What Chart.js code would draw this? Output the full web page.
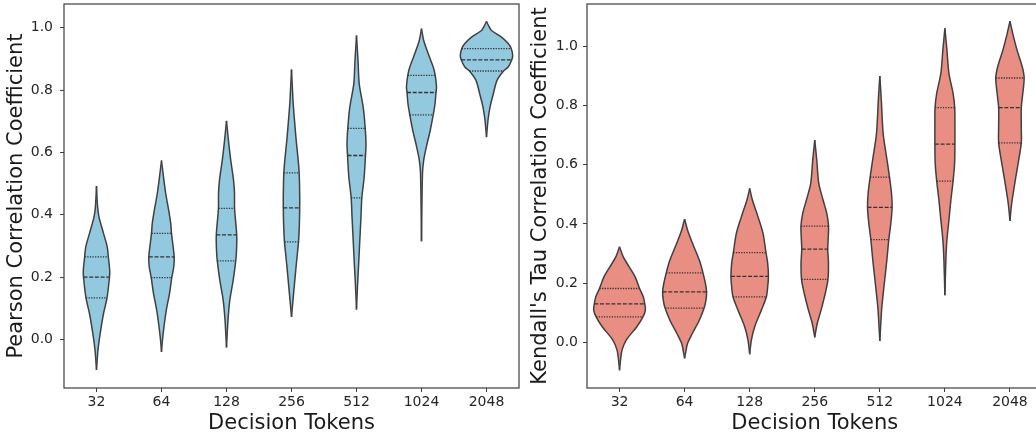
<!DOCTYPE html>
<html>
<head>
<meta charset="utf-8">
<script src="https://cdn.jsdelivr.net/npm/chart.js@4.4.1/dist/chart.umd.min.js"></script>
<style>
  html, body { margin: 0; padding: 0; background: #fff; overflow: hidden; width: 1036px; height: 434px; }
  .panel { position: absolute; top: 0; height: 434px; }
  #left { left: 0; width: 520px; }
  #right { left: 520px; width: 524px; }
</style>
</head>
<body>
<div class="panel" id="left"><canvas id="pearson"></canvas></div>
<div class="panel" id="right"><canvas id="kendall"></canvas></div>
<script>
const tokenLabels = ['32', '64', '128', '256', '512', '1024', '2048'];
const yTickValues = [0, 0.2, 0.4, 0.6, 0.8, 1.0];

// violin outlines: [value, half width in category units]
const pearsonShapes = [
  [[0.492, 0], [0.43, 0.015], [0.393, 0.038], [0.34, 0.108], [0.297, 0.165], [0.265, 0.182], [0.222, 0.203], [0.2, 0.2], [0.133, 0.162], [0.083, 0.108], [0.019, 0.057], [-0.034, 0.023], [-0.098, 0]],
  [[0.574, 0], [0.521, 0.031], [0.468, 0.065], [0.414, 0.111], [0.372, 0.142], [0.34, 0.154], [0.265, 0.195], [0.233, 0.189], [0.198, 0.158], [0.147, 0.123], [0.094, 0.074], [0.04, 0.038], [-0.002, 0.015], [-0.04, 0]],
  [[0.701, 0], [0.628, 0.035], [0.575, 0.065], [0.511, 0.108], [0.468, 0.123], [0.42, 0.124], [0.335, 0.157], [0.286, 0.154], [0.252, 0.142], [0.19, 0.103], [0.126, 0.051], [0.062, 0.023], [-0.026, 0]],
  [[0.866, 0], [0.767, 0.023], [0.713, 0.042], [0.639, 0.072], [0.575, 0.103], [0.534, 0.118], [0.468, 0.126], [0.422, 0.126], [0.361, 0.12], [0.313, 0.108], [0.254, 0.08], [0.19, 0.051], [0.126, 0.023], [0.072, 0]],
  [[0.975, 0], [0.895, 0.023], [0.82, 0.042], [0.745, 0.103], [0.677, 0.134], [0.628, 0.146], [0.59, 0.138], [0.521, 0.118], [0.454, 0.082], [0.393, 0.069], [0.318, 0.051], [0.233, 0.031], [0.169, 0.015], [0.096, 0]],
  [[0.997, 0], [0.959, 0.034], [0.917, 0.103], [0.874, 0.18], [0.847, 0.211], [0.81, 0.231], [0.792, 0.223], [0.756, 0.208], [0.72, 0.18], [0.671, 0.135], [0.617, 0.074], [0.575, 0.034], [0.532, 0.015], [0.315, 0]],
  [[1.02, 0], [1.007, 0.031], [0.991, 0.077], [0.97, 0.231], [0.949, 0.334], [0.933, 0.38], [0.911, 0.403], [0.897, 0.389], [0.874, 0.334], [0.861, 0.262], [0.831, 0.162], [0.788, 0.105], [0.745, 0.054], [0.703, 0.023], [0.649, 0]]
];
// [Q1, median, Q3]
const pearsonQuartiles = [
  [0.133, 0.2, 0.265], [0.198, 0.265, 0.34], [0.252, 0.335, 0.42], [0.313, 0.422, 0.534],
  [0.454, 0.59, 0.677], [0.72, 0.792, 0.847], [0.861, 0.897, 0.933]
];

const kendallShapes = [
  [[0.323, 0], [0.289, 0.057], [0.255, 0.149], [0.222, 0.238], [0.182, 0.308], [0.154, 0.365], [0.13, 0.388], [0.109, 0.397], [0.086, 0.36], [0.053, 0.266], [0.008, 0.103], [-0.026, 0.038], [-0.06, 0.015], [-0.094, 0]],
  [[0.417, 0], [0.379, 0.046], [0.334, 0.123], [0.278, 0.226], [0.235, 0.282], [0.199, 0.32], [0.171, 0.338], [0.143, 0.328], [0.116, 0.3], [0.075, 0.226], [0.03, 0.118], [-0.003, 0.046], [-0.032, 0.018], [-0.054, 0]],
  [[0.52, 0], [0.481, 0.042], [0.424, 0.128], [0.368, 0.205], [0.303, 0.251], [0.267, 0.277], [0.223, 0.288], [0.188, 0.277], [0.154, 0.257], [0.109, 0.18], [0.053, 0.077], [0.008, 0.026], [-0.04, 0]],
  [[0.683, 0], [0.616, 0.031], [0.537, 0.062], [0.481, 0.128], [0.436, 0.185], [0.393, 0.212], [0.357, 0.208], [0.315, 0.2], [0.267, 0.211], [0.213, 0.203], [0.166, 0.162], [0.109, 0.097], [0.064, 0.038], [0.017, 0]],
  [[0.9, 0], [0.819, 0.023], [0.706, 0.051], [0.627, 0.103], [0.558, 0.149], [0.503, 0.18], [0.456, 0.189], [0.402, 0.169], [0.347, 0.138], [0.278, 0.108], [0.199, 0.069], [0.12, 0.031], [0.064, 0.015], [0.005, 0]],
  [[1.061, 0], [0.988, 0.031], [0.909, 0.062], [0.841, 0.126], [0.793, 0.151], [0.728, 0.154], [0.67, 0.154], [0.605, 0.149], [0.545, 0.126], [0.481, 0.092], [0.413, 0.062], [0.346, 0.031], [0.278, 0.015], [0.159, 0]],
  [[1.085, 0], [1.044, 0.042], [0.988, 0.108], [0.931, 0.189], [0.893, 0.218], [0.841, 0.197], [0.793, 0.174], [0.728, 0.174], [0.674, 0.174], [0.616, 0.134], [0.548, 0.082], [0.481, 0.034], [0.447, 0.015], [0.41, 0]]
];
const kendallQuartiles = [
  [0.086, 0.13, 0.182], [0.116, 0.171, 0.235], [0.154, 0.223, 0.303], [0.213, 0.315, 0.393],
  [0.347, 0.456, 0.558], [0.545, 0.67, 0.793], [0.674, 0.793, 0.893]
];

const FONT = 'DejaVu Sans';
const EDGE = '#404040';

// matplotlib-like box around the plot area
const framePlugin = {
  id: 'frame',
  afterDraw(chart) {
    const { ctx, chartArea: a } = chart;
    ctx.save();
    ctx.strokeStyle = '#3c3c3c';
    ctx.lineWidth = 1.2;
    ctx.strokeRect(a.left, a.top, a.right - a.left, a.bottom - a.top);
    ctx.restore();
  }
};

function buildDatasets(shapes, quartiles, fillColor) {
  const datasets = [];
  shapes.forEach((shape, i) => {
    const side = {
      borderColor: EDGE,
      borderWidth: 1.5,
      pointRadius: 0,
      tension: 0.3,
      order: 2
    };
    datasets.push({ ...side, data: shape.map(([v, w]) => ({ x: i - w, y: v })), fill: false });
    datasets.push({ ...side, data: shape.map(([v, w]) => ({ x: i + w, y: v })), fill: '-1', backgroundColor: fillColor });

    // quartile lines: dashed median, dotted quartiles
    quartiles[i].forEach((q, k) => {
      const w = shape.find(p => p[0] === q)[1];
      datasets.push({
        data: [{ x: i - w, y: q }, { x: i + w, y: q }],
        borderColor: '#333333',
        borderWidth: 1.3,
        borderDash: k === 1 ? [4, 1.7] : [1.3, 1.3],
        pointRadius: 0,
        fill: false,
        order: 1
      });
    });
  });
  return datasets;
}

function makeChart(canvasId, shapes, quartiles, fillColor, cfg) {
  return new Chart(document.getElementById(canvasId), {
    type: 'line',
    data: { datasets: buildDatasets(shapes, quartiles, fillColor) },
    plugins: [framePlugin],
    options: {
      indexAxis: 'y',
      responsive: true,
      maintainAspectRatio: false,
      animation: false,
      events: [],
      layout: { padding: cfg.padding, autoPadding: false },
      plugins: {
        legend: { display: false },
        tooltip: { enabled: false },
        filler: { drawTime: 'beforeDatasetsDraw' }
      },
      scales: {
        x: {
          type: 'linear',
          min: -0.5,
          max: 6.5,
          afterBuildTicks: s => { s.ticks = tokenLabels.map((_, i) => ({ value: i })); },
          afterFit: s => { s.height = 46; s.paddingLeft = 0; s.paddingRight = 0; },
          ticks: {
            callback: v => tokenLabels[v],
            font: { family: FONT, size: 14 },
            color: '#262626',
            padding: 2,
            maxRotation: 0,
            autoSkip: false
          },
          grid: { display: true, drawOnChartArea: false, drawTicks: true, tickLength: 4, tickColor: '#3c3c3c' },
          border: { display: false },
          title: {
            display: true,
            text: 'Decision Tokens',
            font: { family: FONT, size: 21 },
            color: '#1a1a1a',
            padding: { top: 0, bottom: -2.4 }
          }
        },
        y: {
          type: 'linear',
          min: cfg.yMin,
          max: cfg.yMax,
          afterBuildTicks: s => { s.ticks = yTickValues.map(v => ({ value: v })); },
          afterFit: s => { s.width = cfg.yWidth; s.paddingTop = 0; s.paddingBottom = 0; },
          ticks: {
            callback: v => v.toFixed(1),
            font: { family: FONT, size: 14 },
            color: '#262626',
            padding: cfg.tickPad
          },
          grid: { display: true, drawOnChartArea: false, drawTicks: true, tickLength: 4, tickColor: '#3c3c3c' },
          border: { display: false },
          title: {
            display: true,
            text: cfg.yTitle,
            font: { family: FONT, size: 21 },
            color: '#1a1a1a',
            padding: { top: cfg.titlePad, bottom: 0 }
          }
        }
      }
    }
  });
}

makeChart('pearson', pearsonShapes, pearsonQuartiles, '#93c9de', {
  yMin: -0.156, yMax: 1.076, yWidth: 64, tickPad: 7, titlePad: 4.4,
  yTitle: 'Pearson Correlation Coefficient',
  padding: { left: 0, top: 4, right: 1, bottom: 0 }
});

makeChart('kendall', kendallShapes, kendallQuartiles, '#e98e83', {
  yMin: -0.154, yMax: 1.143, yWidth: 67, tickPad: 5, titlePad: 7.9,
  yTitle: "Kendall's Tau Correlation Coefficient",
  padding: { left: 0, top: 4, right: 1.5, bottom: 0 }
});
</script>
</body>
</html>
